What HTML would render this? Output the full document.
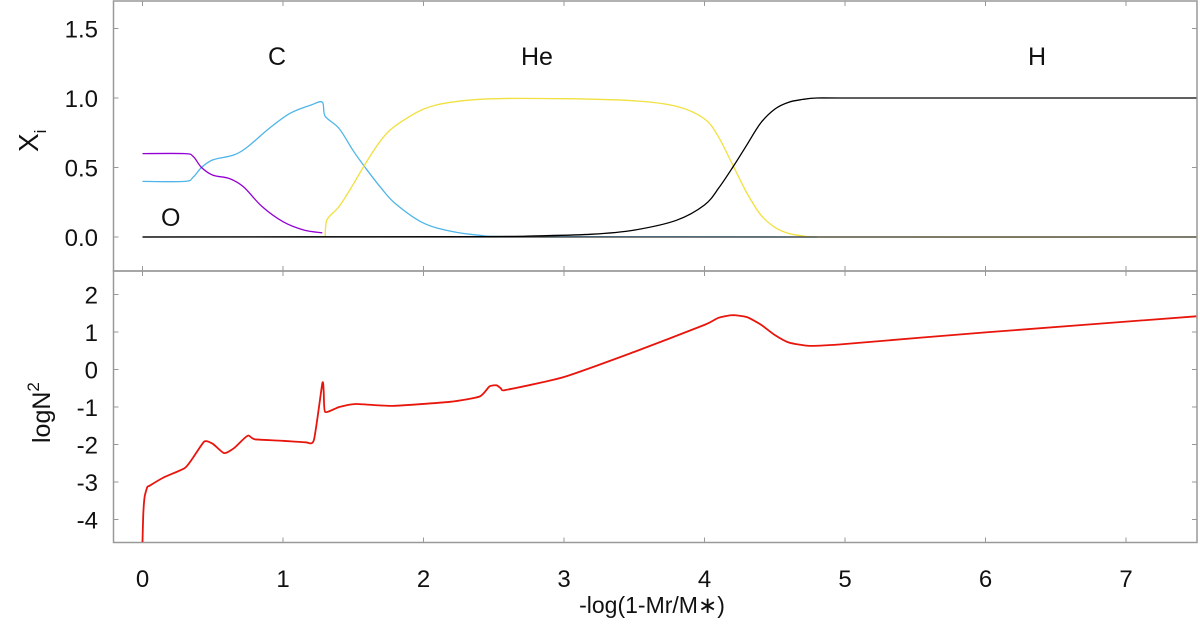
<!DOCTYPE html>
<html><head><meta charset="utf-8"><style>
body{margin:0;background:#fff;}
svg{display:block;font-family:"Liberation Sans",sans-serif;}
</style></head><body>
<svg id="chart" width="1200" height="624">
<g id="axes"></g><g id="marks"></g><g id="labels"></g>
</svg>
<script>
const xTicks=[0,1,2,3,4,5,6,7];
const topTicks=[0.0,0.5,1.0,1.5];
const botTicks=[-4,-3,-2,-1,0,1,2];
const hX=[0,2.4,2.8,3.2,3.5,3.8,4.0,4.1,4.2,4.3,4.4,4.5,4.6,4.7,4.8,5.0,7.5];
const hY=[0,0.003,0.008,0.02,0.05,0.12,0.23,0.35,0.5,0.66,0.82,0.92,0.97,0.99,1.0,1.0,1.0];
const heX=[1.3,1.31,1.4,1.5,1.6,1.7,1.8,2.0,2.2,2.5,3.0,3.5,3.8,4.0,4.1,4.2,4.3,4.4,4.5,4.6,4.7,4.8,7.5];
const heY=[0,0.12,0.22,0.38,0.55,0.7,0.8,0.92,0.97,0.995,0.995,0.98,0.94,0.85,0.72,0.52,0.32,0.16,0.07,0.025,0.008,0,0];
const cX=[0,0.3,0.36,0.42,0.5,0.65,0.75,0.9,1.05,1.2,1.28,1.3,1.4,1.5,1.6,1.7,1.8,2.0,2.2,2.4,2.6,4.8];
const cY=[0.4,0.4,0.43,0.5,0.555,0.59,0.65,0.78,0.89,0.95,0.97,0.87,0.78,0.62,0.48,0.35,0.24,0.1,0.04,0.012,0.003,0];
const oX=[0,0.3,0.36,0.42,0.5,0.62,0.72,0.85,1.0,1.15,1.28];
const oY=[0.6,0.6,0.58,0.5,0.445,0.42,0.36,0.22,0.11,0.05,0.03];
const blackX=[0,7.5];
const blackY=[0,0];
const nX=[0,0.005,0.015,0.035,0.05,0.15,0.3,0.36,0.44,0.5,0.58,0.65,0.72,0.755,0.8,1.0,1.16,1.22,1.28,1.29,1.3,1.4,1.52,1.78,2.19,2.4,2.47,2.52,2.55,2.58,3.0,3.5,4.0,4.1,4.2,4.3,4.4,4.5,4.6,4.75,5.0,6.0,7.5];
const nY=[-4.6,-3.9,-3.4,-3.13,-3.1,-2.88,-2.63,-2.35,-1.92,-1.98,-2.23,-2.1,-1.85,-1.76,-1.86,-1.9,-1.94,-1.88,-0.37,-0.6,-1.13,-1.0,-0.92,-0.97,-0.86,-0.72,-0.45,-0.42,-0.5,-0.55,-0.2,0.47,1.19,1.38,1.45,1.4,1.2,0.92,0.72,0.63,0.68,0.99,1.42];

const L=113.5,R=1197,T=1,MID=271,B=542.5;
const X=v=>142.5+v*140.5;
const Yt=v=>237-v*139;
const Yb=v=>369.5-v*37.5;
const NS="http://www.w3.org/2000/svg";
function mk(tag,attrs,parent){const e=document.createElementNS(NS,tag);for(const k in attrs)e.setAttribute(k,attrs[k]);parent.appendChild(e);return e;}
const axes=document.getElementById('axes'),marks=document.getElementById('marks'),labels=document.getElementById('labels');
let f=mk('rect',{x:L,y:T,width:R-L,height:MID-T,fill:'none',stroke:'#999','stroke-width':1.5},axes);


f=mk('rect',{x:L,y:MID,width:R-L,height:B-MID,fill:'none',stroke:'#999','stroke-width':1.5},axes);


xTicks.forEach(t=>{
  [[T,T+5],[MID-5,MID+5],[B-5,B]].forEach(p=>{mk('line',{x1:X(t),x2:X(t),y1:p[0],y2:p[1],stroke:'#999'},axes);});
  const tx=mk('text',{x:X(t),y:587,'font-size':24,'text-anchor':'middle',fill:'#111'},labels);
  tx.textContent=t;
  
  
});
topTicks.forEach(t=>{
  mk('line',{x1:L,x2:L+5,y1:Yt(t),y2:Yt(t),stroke:'#999'},axes);
  mk('line',{x1:R-5,x2:R,y1:Yt(t),y2:Yt(t),stroke:'#999'},axes);
  const tx=mk('text',{x:98,y:Yt(t)+9,'font-size':24,'text-anchor':'end',fill:'#111'},labels);
  tx.textContent=t.toFixed(1);
  
  
});
botTicks.forEach(t=>{
  mk('line',{x1:L,x2:L+5,y1:Yb(t),y2:Yb(t),stroke:'#999'},axes);
  mk('line',{x1:R-5,x2:R,y1:Yb(t),y2:Yb(t),stroke:'#999'},axes);
  const tx=mk('text',{x:98,y:Yb(t)+9,'font-size':24,'text-anchor':'end',fill:'#111'},labels);
  tx.textContent=t;
  
  
});
function line(xs,ys,Y,color,name,w,k){
  const P=xs.map((x,i)=>[X(x),Y(ys[i])]);
  k=(k===undefined)?0.16:k;
  let d='M'+P[0][0].toFixed(1)+','+P[0][1].toFixed(1);
  for(let i=0;i<P.length-1;i++){
    const p0=P[Math.max(0,i-1)],p1=P[i],p2=P[i+1],p3=P[Math.min(P.length-1,i+2)];
    const c1=[p1[0]+(p2[0]-p0[0])*k,p1[1]+(p2[1]-p0[1])*k];
    const c2=[p2[0]-(p3[0]-p1[0])*k,p2[1]-(p3[1]-p1[1])*k];
    c1[0]=Math.min(Math.max(c1[0],p1[0]),p2[0]);c2[0]=Math.min(Math.max(c2[0],p1[0]),p2[0]);
    d+='C'+c1[0].toFixed(1)+','+c1[1].toFixed(1)+' '+c2[0].toFixed(1)+','+c2[1].toFixed(1)+' '+p2[0].toFixed(1)+','+p2[1].toFixed(1);
  }
  const p=mk('path',{d:d,fill:'none',stroke:color,'stroke-width':w||1.3,'stroke-linejoin':'round'},marks);
  
  
}
line(cX,cY,Yt,'#4fb5e8','carbon-line');
line(oX,oY,Yt,'#9400d3','oxygen-line');
line(heX,heY,Yt,'#f0e040','helium-line');
line(blackX,blackY,Yt,'#333','baseline-zero',1.3);
line(hX,hY,Yt,'#000','hydrogen-line');
line(nX,nY,Yb,'#e8150c','logN2-line',1.8,0.1);
function txt(x,y,s,size,name,extra){const t=mk('text',Object.assign({x:x,y:y,'font-size':size,fill:'#111'},extra||{}),labels);t.innerHTML=s;return t;}
txt(268,65,'C',25,'label-c');
txt(521,65,'He',25,'label-he');
txt(1028,65,'H',25,'label-h');
txt(161,226,'O',25,'label-o');
txt(652,613,'-log(1-Mr/M\u2217)',23,'x-axis-title',{'text-anchor':'middle'});
txt(0,0,'X<tspan font-size="17" dy="8">i</tspan>',28,'top-y-axis-title',{transform:'translate(38,152) rotate(-90)'});
txt(0,0,'logN<tspan font-size="17" dy="-11">2</tspan>',25,'bottom-y-axis-title',{transform:'translate(50,443) rotate(-90)'});
</script>
</body></html>
